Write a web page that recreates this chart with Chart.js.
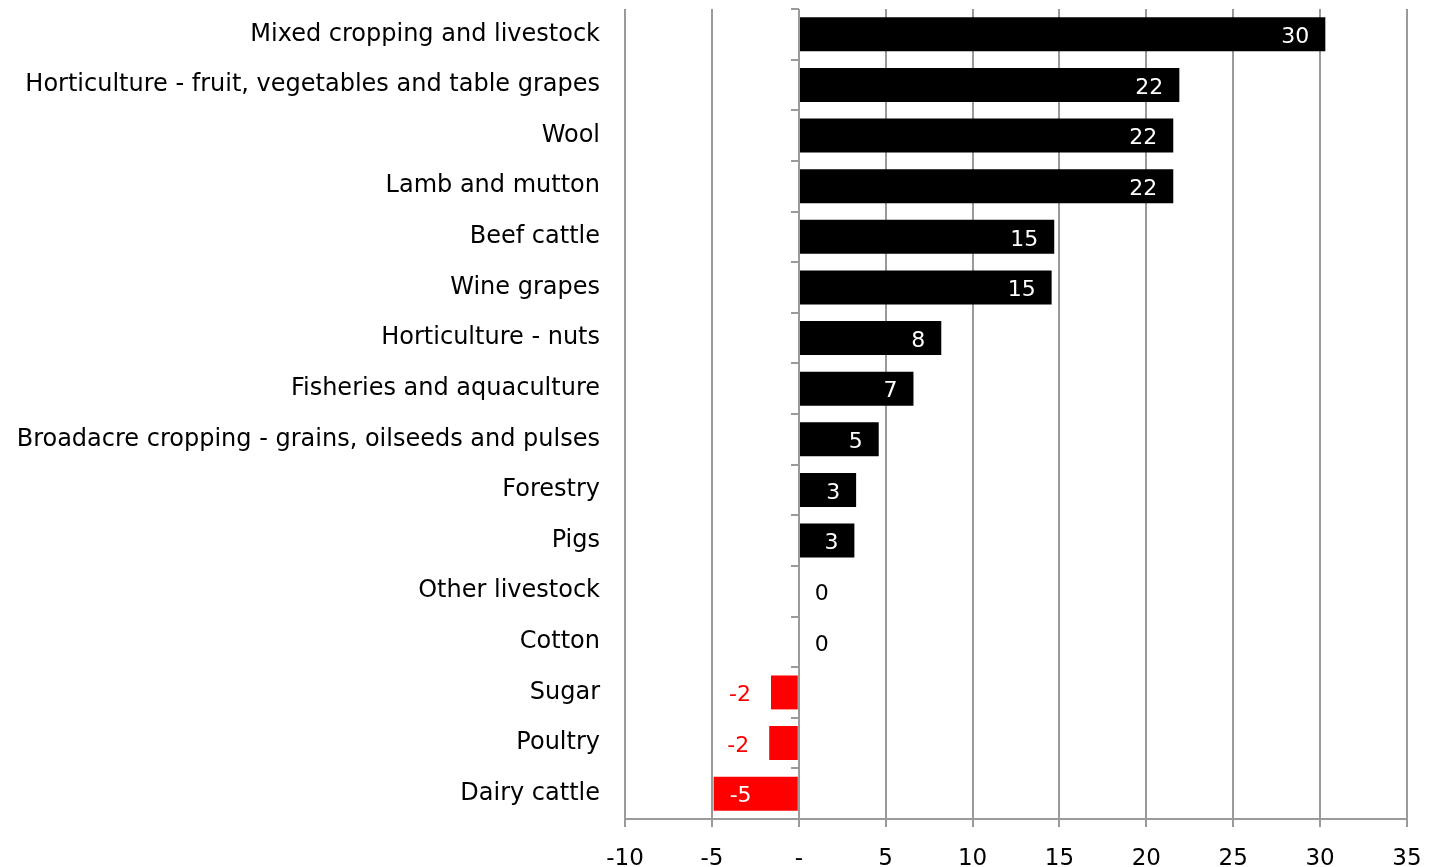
<!DOCTYPE html>
<html>
<head>
<meta charset="utf-8">
<script src="https://cdn.jsdelivr.net/npm/chart.js@4/dist/chart.umd.min.js"></script>
<style>
  html, body { margin: 0; padding: 0; background: #fff; overflow: hidden; }
  #wrap { position: relative; width: 1436px; height: 900px; }
</style>
</head>
<body>
<div id="wrap"><canvas id="chart"></canvas></div>
<script>
// Industries, ordered from largest to smallest change
const categories = [
  'Mixed cropping and livestock',
  'Horticulture - fruit, vegetables and table grapes',
  'Wool',
  'Lamb and mutton',
  'Beef cattle',
  'Wine grapes',
  'Horticulture - nuts',
  'Fisheries and aquaculture',
  'Broadacre cropping - grains, oilseeds and pulses',
  'Forestry',
  'Pigs',
  'Other livestock',
  'Cotton',
  'Sugar',
  'Poultry',
  'Dairy cattle'
];
const changeValues = [30.3, 21.9, 21.55, 21.55, 14.7, 14.55, 8.2, 6.6, 4.6, 3.3, 3.2, 0, 0, -1.6, -1.7, -4.9];
const xTicks = [-10, -5, 0, 5, 10, 15, 20, 25, 30, 35];

const FONT = '"DejaVu Sans", "Open Sans", sans-serif';
const GRID = '#9a9a9a';
const POS = '#000000';
const NEG = '#ff0000';

// Vertical axis line at zero with small ticks between categories
const zeroAxis = {
  id: 'zeroAxis',
  afterDatasetsDraw(chart) {
    const { ctx, chartArea, scales } = chart;
    const x0 = Math.round(scales.x.getPixelForValue(0));
    const n = categories.length;
    const step = (chartArea.bottom - chartArea.top) / n;
    ctx.save();
    ctx.strokeStyle = GRID;
    ctx.lineWidth = 2;
    ctx.beginPath();
    ctx.moveTo(x0, chartArea.top);
    ctx.lineTo(x0, chartArea.bottom);
    for (let i = 0; i < n; i++) {
      const y = Math.round(chartArea.top + i * step);
      ctx.moveTo(x0 - 8, y);
      ctx.lineTo(x0, y);
    }
    ctx.stroke();
    ctx.restore();
  }
};

// Value labels: inside the bar end when they fit, otherwise just outside
const valueLabels = {
  id: 'valueLabels',
  afterDatasetsDraw(chart) {
    const { ctx } = chart;
    const meta = chart.getDatasetMeta(0);
    ctx.save();
    ctx.font = '22px ' + FONT;
    ctx.textBaseline = 'middle';
    meta.data.forEach((bar, i) => {
      const v = changeValues[i];
      const text = String(Math.round(v));
      const w = ctx.measureText(text).width;
      const len = Math.abs(bar.x - bar.base);
      const pad = 16;
      const y = bar.y + 3;
      const inside = len >= w + pad + 6;
      if (v >= 0) {
        if (inside) {
          ctx.fillStyle = '#fff';
          ctx.textAlign = 'right';
          ctx.fillText(text, bar.x - pad, y);
        } else {
          ctx.fillStyle = POS;
          ctx.textAlign = 'left';
          ctx.fillText(text, bar.x + pad, y);
        }
      } else {
        if (inside) {
          ctx.fillStyle = '#fff';
          ctx.textAlign = 'left';
          ctx.fillText(text, bar.x + pad, y);
        } else {
          ctx.fillStyle = NEG;
          ctx.textAlign = 'right';
          ctx.fillText(text, bar.x - 20, y);
        }
      }
    });
    ctx.restore();
  }
};

new Chart(document.getElementById('chart'), {
  type: 'bar',
  data: {
    labels: categories,
    datasets: [{
      data: changeValues,
      backgroundColor: changeValues.map(v => v < 0 ? NEG : POS),
      borderWidth: 0,
      categoryPercentage: 1,
      barPercentage: 0.67
    }]
  },
  options: {
    indexAxis: 'y',
    responsive: true,
    maintainAspectRatio: false,
    animation: false,
    layout: { padding: { top: 9, right: 29, left: 0, bottom: 0 } },
    plugins: { legend: { display: false }, tooltip: { enabled: false } },
    scales: {
      x: {
        min: xTicks[0],
        max: xTicks[xTicks.length - 1],
        afterBuildTicks(scale) { scale.ticks = xTicks.map(v => ({ value: v })); },
        afterFit(scale) { scale.height = 81; scale.paddingLeft = 0; scale.paddingRight = 0; },
        grid: { color: GRID, lineWidth: 2, tickLength: 8, drawTicks: true },
        border: { color: GRID, width: 2 },
        ticks: {
          color: '#000',
          padding: 18,
          font: { family: FONT, size: 23 },
          callback: v => v === 0 ? '-' : String(v)
        }
      },
      y: {
        afterFit(scale) { scale.width = 625; scale.paddingTop = 0; scale.paddingBottom = 0; },
        grid: { display: false, drawTicks: false },
        border: { display: false },
        ticks: {
          color: '#000',
          padding: 25,
          autoSkip: false,
          font: { family: FONT, size: 24 }
        }
      }
    }
  },
  plugins: [zeroAxis, valueLabels]
});
</script>
</body>
</html>
